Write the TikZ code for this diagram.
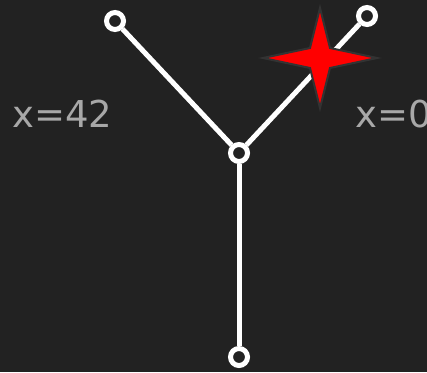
\documentclass[tikz,border=0pt]{standalone}
\usepackage{fontspec}
\setmainfont{DejaVu Sans}
\definecolor{bgdark}{HTML}{222222}
\definecolor{labelgray}{HTML}{A8A8A8}
\definecolor{glowgray}{HTML}{333333}
\tikzset{
    leaf/.style={circle, draw=white, fill=bgdark, line width=5pt,
        minimum size=17pt, inner sep=0pt},
    branch/.style={draw=white, line width=5pt},
    xlabel/.style={text=labelgray, font=\fontsize{37}{42}\selectfont,
        inner sep=0pt, anchor=base west},
}

\begin{document}
\begin{tikzpicture}[x=1pt, y=-1pt]
    \useasboundingbox[fill=bgdark] (0,0) rectangle (427,372);
    \node[leaf] (topleft) at (115,21) {};
    \node[leaf] (topright) at (367,16) {};
    \node[leaf] (mid) at (239,153) {};
    \node[leaf] (bottom) at (239,357) {};
    \draw[branch] (mid) -- (topleft);
    \draw[branch] (mid) -- (topright);
    \draw[branch] (mid) -- (bottom);
    \node[xlabel] (left label) at (12,127) {x=42};
    \node[xlabel] (right label) at (355,127) {x=0};
    % the red star on top of the right branch
    \filldraw[fill=red, draw=glowgray, line width=2pt, line join=miter]
        (320,8) -- (330,48) -- (377,58) -- (330,68) -- (320,108)
        -- (310,68) -- (263,58) -- (310,48) -- cycle;
\end{tikzpicture}
\end{document}
